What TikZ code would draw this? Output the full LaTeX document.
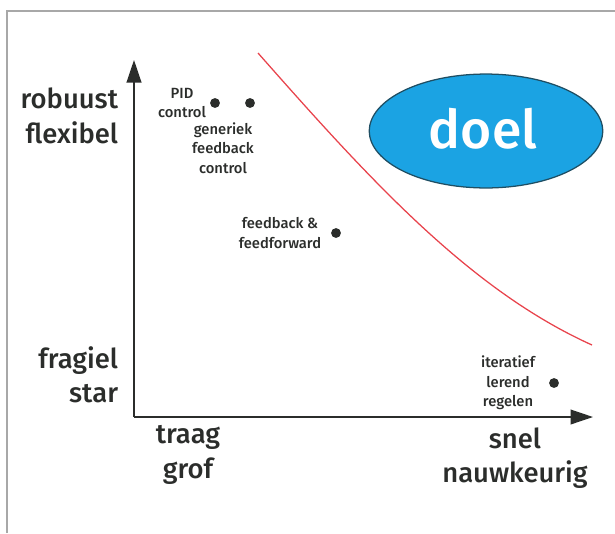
\documentclass[tikz,border=0pt]{standalone}
\usepackage{fontspec}
\setmainfont{Fira Sans Medium}
\usetikzlibrary{arrows.meta,shapes.geometric}
\definecolor{doelBlue}{HTML}{1BA3E3}
\definecolor{doelEdge}{HTML}{1F4E63}
\definecolor{grens}{HTML}{E8434C}
\definecolor{ink}{HTML}{2B2D2B}
\definecolor{kader}{HTML}{A8A8A8}
\tikzset{
  axislabel/.style={font=\fontsize{19.5}{24.5}\selectfont\color{ink}},
  ptlabel/.style={align=center,font=\fontsize{10.5}{13.8}\selectfont\color{ink}},
  punt/.style={circle,fill=ink,inner sep=0pt,minimum size=7pt},
  as/.style={ink,line width=1.1pt,-{Triangle[length=16pt,width=10.5pt]}}
}

\begin{document}
\begin{tikzpicture}[x=0.025cm,y=-0.025cm]
  \useasboundingbox (0,0) rectangle (615,533);
  \draw[kader,line width=0.8pt] (7,533) -- (7,11) -- (615,11);

  \coordinate (o) at (134,417);
  \coordinate (ytop) at (134,60);
  \coordinate (xend) at (593,417);
  \draw[as] (o) -- (ytop);
  \draw[as] (o) -- (xend);

  \draw[grens,line width=0.9pt] (258,53) .. controls (370,180) and (470,290) .. (592,345);

  \node[ellipse,fill=doelBlue,draw=doelEdge,line width=0.9pt,inner sep=0pt,minimum width=166pt,minimum height=81pt] (doel) at (486,131) {};
  \node[font=\fontsize{38}{44}\selectfont\color{white}] (doeltxt) at (483,129) {doel};

  \node[axislabel,align=right,anchor=east] (robuust) at (123,116) {robuust\\flexibel};
  \node[axislabel,align=right,anchor=east] (fragiel) at (123,375) {fragiel\\star};
  \node[axislabel,align=center] (traag) at (188,455) {traag\\grof};
  \node[axislabel,align=center] (snel) at (515,458) {snel\\nauwkeurig};

  \node[punt] (pid) at (215,103) {};
  \node[punt] (gen) at (250,103) {};
  \node[punt] (ff) at (336,233) {};
  \node[punt] (ilc) at (554,383) {};
  \node[ptlabel] (pidtxt) at (182,103) {PID\\control};
  \node[ptlabel] (gentxt) at (223,148) {generiek\\feedback\\control};
  \node[ptlabel] (fftxt) at (280,233) {feedback \&\\feedforward};
  \node[ptlabel] (ilctxt) at (508,383) {iteratief\\lerend\\regelen};
\end{tikzpicture}
\end{document}
